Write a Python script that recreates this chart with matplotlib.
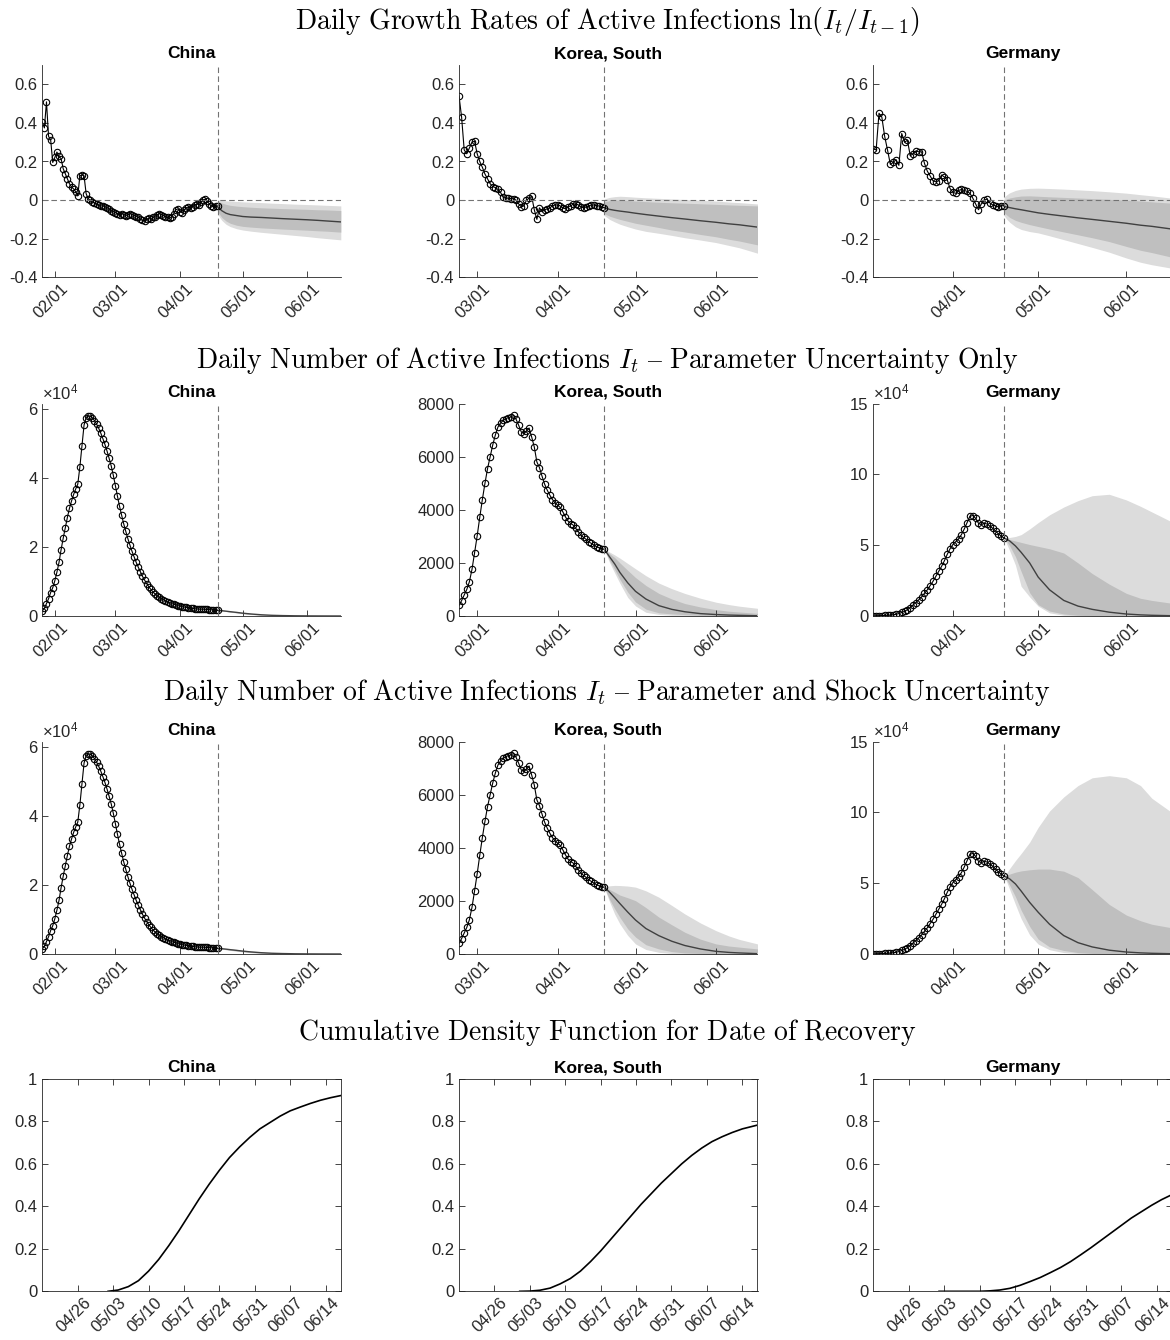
import matplotlib
matplotlib.use('agg')

import matplotlib.pyplot as plt
import matplotlib.dates as mdates
import matplotlib.ticker as ticker
import matplotlib.transforms as mtransforms
import numpy as np
import pandas as pd

# ---------------- observed data (daily) ----------------
china_start = '2020-01-26'
korea_start = '2020-02-23'
germany_start = '2020-03-04'
cutoff = '2020-04-19'

china_growth = [0.405, 0.374, 0.509, 0.33, 0.313, 0.195, 0.221, 0.249, 0.226, 0.215,
                0.163, 0.137, 0.111, 0.085, 0.068, 0.058, 0.043, 0.022, 0.126, 0.13,
                0.126, 0.033, 0.007, -0.002,
                -0.01, -0.015, -0.02, -0.025, -0.03, -0.03, -0.035, -0.04, -0.045, -0.055,
                -0.06, -0.065, -0.07, -0.075, -0.07, -0.075, -0.08, -0.075, -0.07, -0.075,
                -0.08, -0.085, -0.09, -0.1, -0.105, -0.11, -0.1, -0.095, -0.1, -0.09,
                -0.085, -0.075, -0.07, -0.075, -0.08, -0.085, -0.09, -0.095, -0.085, -0.07,
                -0.05, -0.045, -0.06, -0.065, -0.05, -0.04, -0.035, -0.04, -0.035, -0.025,
                -0.02, -0.025, -0.01, 0.0, 0.005, -0.005, -0.02, -0.03, -0.035, -0.03, -0.03]
china_active = [1500, 2200, 3600, 5000, 6800, 8200, 10200, 12700, 15500, 19200,
                22500, 25500, 28500, 31200, 33300, 35200, 36800, 38200, 43200, 49300,
                55300, 57500,
                58000, 57900, 57400, 56600, 55600, 54400, 53000, 51400, 49700, 47800,
                45700, 43500, 40800, 37800,
                34700, 31800, 29200, 26700, 24500, 22400, 20500, 18700, 17100, 15500,
                14100, 12800, 11500, 10400,
                9400, 8500, 7700, 7000, 6400, 5900, 5450, 5050, 4700, 4400, 4100, 3850,
                3600, 3400, 3200, 3000,
                2850, 2700, 2600, 2500, 2400, 2300, 2200, 2100, 2050, 2000, 2000, 2000,
                1950, 1900, 1850, 1800, 1750, 1700, 1650]

korea_growth = [0.54, 0.43, 0.26, 0.24, 0.27, 0.30, 0.305, 0.24, 0.20, 0.17,
                0.135, 0.11, 0.085, 0.07, 0.065, 0.055, 0.04, 0.015, 0.01, 0.01,
                0.008, 0.007, 0.0, -0.02, -0.035, -0.03, 0.0, 0.01, 0.02, -0.05,
                -0.1, -0.04, -0.06, -0.05, -0.045, -0.04, -0.03, -0.025, -0.025, -0.03,
                -0.04, -0.045, -0.035, -0.03, -0.02, -0.02, -0.025, -0.035, -0.04, -0.035,
                -0.03, -0.025, -0.025, -0.03, -0.03, -0.035, -0.04]
korea_active = [400, 580, 790, 1000, 1290, 1755, 2380, 3020, 3720, 4390,
                5000, 5555, 6000, 6445, 6820, 7120, 7270, 7370, 7440, 7475,
                7500, 7560, 7410, 7185, 6935, 6870, 6970, 7085, 6745, 6370,
                5805, 5590, 5265, 4965, 4740, 4550, 4390, 4265, 4175, 4090,
                3925, 3740, 3575, 3485, 3425, 3300, 3170, 3045, 2960, 2885,
                2795, 2735, 2670, 2610, 2570, 2540, 2510]

germany_growth = [0.265, 0.26, 0.45, 0.43, 0.33, 0.26, 0.185, 0.195, 0.21, 0.18,
                  0.345, 0.30, 0.31, 0.23, 0.24, 0.255, 0.25, 0.25, 0.19, 0.15,
                  0.125, 0.10, 0.095, 0.10, 0.13, 0.12, 0.105, 0.06, 0.04, 0.035,
                  0.05, 0.055, 0.05, 0.045, 0.035, 0.01, -0.02, -0.05, -0.02, 0.0,
                  0.005, -0.015, -0.025, -0.03, -0.035, -0.03, -0.028]
germany_active = [150, 200, 250, 300, 400, 500, 650, 900, 1200, 1700,
                  2500, 3300, 4500, 6000, 7800, 9500, 11500, 13500, 16000, 18500,
                  21500, 24500, 28000, 31500, 35000, 39000, 43500, 47500, 50500, 52500,
                  54500, 57500, 61500, 66000, 70500, 71000, 69000, 65500, 64500, 65500,
                  65000, 63500, 62000, 60000, 58000, 56500, 55000]

# ---------------- forecasts: median, inner band (hi, lo), outer band (hi, lo) ----------------
fc_dates = ['2020-04-19', '2020-04-20', '2020-04-21', '2020-04-23', '2020-04-25',
            '2020-04-28', '2020-05-01', '2020-05-05', '2020-05-10', '2020-05-15',
            '2020-05-20', '2020-05-26', '2020-06-01', '2020-06-06', '2020-06-10',
            '2020-06-17']

china_g_med = [-0.035, -0.045, -0.055, -0.068, -0.075, -0.08, -0.085, -0.088, -0.09, -0.093,
               -0.096, -0.099, -0.102, -0.105, -0.108, -0.113]
china_g_ihi = [-0.005, -0.01, -0.015, -0.022, -0.027, -0.031, -0.034, -0.037, -0.04, -0.042,
               -0.044, -0.046, -0.048, -0.05, -0.051, -0.054]
china_g_ilo = [-0.06, -0.075, -0.09, -0.108, -0.12, -0.13, -0.136, -0.14, -0.144, -0.147,
               -0.15, -0.153, -0.156, -0.159, -0.161, -0.166]
china_g_ohi = [0.0, -0.001, -0.002, -0.004, -0.005, -0.007, -0.009, -0.011, -0.013, -0.016,
               -0.018, -0.021, -0.023, -0.025, -0.027, -0.03]
china_g_olo = [-0.07, -0.09, -0.105, -0.125, -0.137, -0.148, -0.155, -0.161, -0.167, -0.172,
               -0.177, -0.183, -0.189, -0.195, -0.199, -0.206]

korea_g_med = [-0.04, -0.044, -0.048, -0.053, -0.057, -0.062, -0.068, -0.075, -0.083, -0.091,
               -0.098, -0.107, -0.115, -0.123, -0.128, -0.14]
korea_g_ihi = [-0.01, -0.006, -0.003, 0.0, 0.0, -0.002, -0.005, -0.008, -0.011, -0.014,
               -0.016, -0.019, -0.022, -0.025, -0.027, -0.03]
korea_g_ilo = [-0.07, -0.077, -0.083, -0.092, -0.1, -0.11, -0.12, -0.13, -0.142, -0.155,
               -0.165, -0.178, -0.19, -0.203, -0.212, -0.232]
korea_g_ohi = [0.005, 0.01, 0.014, 0.018, 0.02, 0.018, 0.015, 0.012, 0.009, 0.006,
               0.003, -0.001, -0.005, -0.01, -0.013, -0.02]
korea_g_olo = [-0.08, -0.09, -0.1, -0.113, -0.125, -0.138, -0.15, -0.162, -0.172, -0.183,
               -0.195, -0.207, -0.22, -0.235, -0.247, -0.275]

germany_g_med = [-0.033, -0.036, -0.039, -0.045, -0.05, -0.058, -0.066, -0.074, -0.083, -0.092,
                 -0.1, -0.11, -0.12, -0.13, -0.136, -0.15]
germany_g_ihi = [0.0, 0.006, 0.011, 0.017, 0.021, 0.022, 0.02, 0.017, 0.014, 0.011,
                 0.008, 0.004, 0.0, -0.005, -0.009, -0.016]
germany_g_ilo = [-0.065, -0.078, -0.09, -0.105, -0.115, -0.127, -0.137, -0.15, -0.165, -0.18,
                 -0.195, -0.215, -0.24, -0.26, -0.272, -0.296]
germany_g_ohi = [0.015, 0.028, 0.038, 0.05, 0.057, 0.061, 0.062, 0.06, 0.057, 0.053,
                 0.049, 0.043, 0.036, 0.028, 0.022, 0.01]
germany_g_olo = [-0.08, -0.1, -0.115, -0.138, -0.152, -0.163, -0.17, -0.185, -0.205, -0.225,
                 -0.245, -0.27, -0.3, -0.322, -0.335, -0.353]

# parameter uncertainty only
china_p_med = [1650, 1600, 1540, 1400, 1250, 1050, 820, 580, 350, 200, 120, 60, 30, 18, 12, 5]
china_p_ihi = [1650, 1630, 1590, 1480, 1360, 1170, 940, 690, 440, 270, 170, 95, 52, 33, 23, 12]
china_p_ilo = [1650, 1570, 1490, 1320, 1150, 940, 710, 480, 270, 145, 80, 37, 17, 10, 6, 3]
china_p_ohi = [1650, 1650, 1620, 1530, 1420, 1240, 1010, 760, 500, 320, 210, 120, 70, 45, 32, 18]
china_p_olo = [1650, 1550, 1460, 1280, 1100, 880, 650, 420, 230, 120, 65, 28, 12, 7, 4, 2]

korea_p_med = [2510, 2370, 2230, 1960, 1640, 1250, 930, 640, 390, 250, 160, 90, 55, 35, 25, 10]
korea_p_ihi = [2510, 2430, 2350, 2200, 2000, 1720, 1450, 1150, 850, 640, 470, 340, 240, 180, 150, 100]
korea_p_ilo = [2510, 2300, 2100, 1750, 1380, 900, 530, 260, 120, 80, 50, 25, 12, 8, 5, 2]
korea_p_ohi = [2510, 2460, 2410, 2300, 2180, 1980, 1780, 1520, 1240, 1030, 850, 670, 520, 430, 370, 290]
korea_p_olo = [2510, 2260, 2020, 1620, 1230, 700, 380, 140, 60, 25, 10, 4, 2, 1, 0, 0]

germany_p_med = [55000, 54200, 53000, 49500, 45000, 37500, 27500, 18500, 11000, 7000,
                 4700, 2700, 1400, 800, 500, 200]
germany_p_ihi = [55000, 54500, 54000, 53000, 52000, 50500, 49200, 47500, 44500, 37500,
                 30000, 22500, 16000, 12500, 11000, 9000]
germany_p_ilo = [55000, 52500, 49500, 42000, 31500, 16500, 8000, 3500, 1400, 500,
                 200, 100, 0, 0, 0, 0]
germany_p_ohi = [55000, 55200, 55500, 56200, 57500, 61500, 66000, 71500, 77000, 81500,
                 85000, 86000, 82000, 77500, 73500, 66500]
germany_p_olo = [55000, 50500, 46000, 36000, 21000, 13500, 7000, 2200, 500, 100,
                 0, 0, 0, 0, 0, 0]

# parameter and shock uncertainty
china_s_med = [1650, 1600, 1540, 1410, 1260, 1060, 840, 600, 370, 215, 130, 65, 33, 20, 13, 6]
china_s_ihi = [1650, 1660, 1630, 1530, 1410, 1230, 1010, 760, 500, 320, 210, 120, 68, 45, 32, 18]
china_s_ilo = [1650, 1540, 1450, 1280, 1110, 890, 670, 440, 240, 125, 68, 30, 13, 8, 5, 2]
china_s_ohi = [1650, 1700, 1690, 1610, 1510, 1340, 1120, 870, 600, 400, 270, 160, 95, 65, 48, 28]
china_s_olo = [1650, 1500, 1400, 1220, 1040, 820, 600, 380, 200, 100, 52, 22, 9, 5, 3, 1]

korea_s_med = [2510, 2420, 2330, 2120, 1900, 1580, 1280, 960, 690, 480, 320, 190, 100, 60, 40, 13]
korea_s_ihi = [2510, 2470, 2430, 2330, 2220, 2120, 2010, 1750, 1390, 1100, 820, 560, 380, 300, 260, 190]
korea_s_ilo = [2510, 2280, 2060, 1700, 1380, 950, 640, 350, 190, 90, 40, 20, 10, 6, 4, 2]
korea_s_ohi = [2510, 2550, 2570, 2585, 2580, 2560, 2520, 2380, 2140, 1830, 1510, 1170, 880, 680, 550, 380]
korea_s_olo = [2510, 2230, 1970, 1500, 1130, 700, 380, 170, 63, 20, 8, 3, 1, 0, 0, 0]

germany_s_med = [55000, 54200, 53000, 49500, 44500, 36500, 29500, 21000, 13000, 8000,
                 5000, 2700, 1400, 800, 500, 200]
germany_s_ihi = [55000, 55800, 56500, 57800, 58700, 59500, 60000, 60000, 58500, 54000,
                 45500, 35000, 27500, 23500, 21000, 18500]
germany_s_ilo = [55000, 52000, 48500, 40500, 31000, 19500, 10500, 5000, 2500, 1000,
                 400, 100, 0, 0, 0, 0]
germany_s_ohi = [55000, 57500, 60500, 66000, 71000, 79000, 89500, 101000, 111000, 119000,
                 124500, 126000, 124500, 119000, 110000, 100000]
germany_s_olo = [55000, 50500, 45500, 35000, 25000, 13500, 7000, 3000, 1000, 300,
                 0, 0, 0, 0, 0, 0]

# ---------------- CDF of recovery date ----------------
china_cdf_dates = ['2020-05-02', '2020-05-04', '2020-05-06', '2020-05-08', '2020-05-10',
                   '2020-05-12', '2020-05-14', '2020-05-16', '2020-05-18', '2020-05-20',
                   '2020-05-22', '2020-05-24', '2020-05-26', '2020-05-28', '2020-05-30',
                   '2020-06-01', '2020-06-03', '2020-06-05', '2020-06-07', '2020-06-09',
                   '2020-06-11', '2020-06-13', '2020-06-15', '2020-06-17']
china_cdf = [0.0, 0.006, 0.022, 0.05, 0.095, 0.15, 0.215, 0.285, 0.36, 0.435,
             0.505, 0.57, 0.63, 0.68, 0.725, 0.765, 0.795, 0.825, 0.85, 0.868,
             0.885, 0.9, 0.912, 0.922]

korea_cdf_dates = ['2020-05-01', '2020-05-03', '2020-05-05', '2020-05-07', '2020-05-09',
                   '2020-05-11', '2020-05-13', '2020-05-15', '2020-05-17', '2020-05-19',
                   '2020-05-21', '2020-05-23', '2020-05-25', '2020-05-27', '2020-05-29',
                   '2020-05-31', '2020-06-02', '2020-06-04', '2020-06-06', '2020-06-08',
                   '2020-06-10', '2020-06-12', '2020-06-14', '2020-06-17']
korea_cdf = [0.0, 0.001, 0.005, 0.015, 0.035, 0.06, 0.095, 0.14, 0.19, 0.245,
             0.30, 0.355, 0.41, 0.46, 0.51, 0.555, 0.6, 0.64, 0.675, 0.705,
             0.728, 0.748, 0.765, 0.783]

germany_cdf_dates = ['2020-05-02', '2020-05-10', '2020-05-12', '2020-05-14', '2020-05-16',
                     '2020-05-18', '2020-05-20', '2020-05-22', '2020-05-24', '2020-05-26',
                     '2020-05-28', '2020-05-30', '2020-06-01', '2020-06-03', '2020-06-05',
                     '2020-06-07', '2020-06-09', '2020-06-11', '2020-06-13', '2020-06-15',
                     '2020-06-17']
germany_cdf = [0.0, 0.0, 0.002, 0.006, 0.014, 0.028, 0.046, 0.065, 0.088, 0.112,
               0.14, 0.172, 0.205, 0.24, 0.275, 0.31, 0.345, 0.375, 0.405, 0.432, 0.455]

countries = ['China', 'Korea, South', 'Germany']

row_titles = [r'$\mathrm{Daily\ Growth\ Rates\ of\ Active\ Infections\ }\ln(I_t/I_{t-1})$',
              r'$\mathrm{Daily\ Number\ of\ Active\ Infections\ }I_t\mathrm{\ –\ Parameter\ Uncertainty\ Only}$',
              r'$\mathrm{Daily\ Number\ of\ Active\ Infections\ }I_t\mathrm{\ –\ Parameter\ and\ Shock\ Uncertainty}$',
              r'$\mathrm{Cumulative\ Density\ Function\ for\ Date\ of\ Recovery}$']

AXC = '#262626'
LIGHT = '#dcdcdc'
DARK = '#bfbfbf'


def style_axes(fig, ax, box=False):
    for s in ['left', 'bottom', 'top', 'right']:
        ax.spines[s].set_color(AXC)
        ax.spines[s].set_linewidth(0.6)
    if not box:
        ax.spines['top'].set_visible(False)
        ax.spines['right'].set_visible(False)
    ax.tick_params(direction='in', length=4, width=0.6, colors=AXC,
                   labelsize=12, top=box, right=box)
    ax.tick_params(axis='x', pad=3)
    shift = mtransforms.ScaledTranslation(-4 / 100., 0, fig.dpi_scale_trans)
    for lab in ax.get_xticklabels():
        lab.set_rotation(45)
        lab.set_ha('center')
        lab.set_va('top')
        lab.set_transform(lab.get_transform() + shift)


def draw_panel(ax, start, obs, fc):
    dates = pd.date_range(start, periods=len(obs), freq='D')
    fd = pd.to_datetime(fc_dates)
    med, ihi, ilo, ohi, olo = fc
    ax.fill_between(fd, olo, ohi, color=LIGHT, lw=0)
    ax.fill_between(fd, ilo, ihi, color=DARK, lw=0)
    ax.plot(fd, med, color='#404040', lw=1.0)
    ax.plot(dates, obs, color='k', lw=0.8)
    ax.plot(dates, obs, 'o', mfc='none', mec='k', ms=4.6, mew=0.8)
    ax.axvline(pd.Timestamp(cutoff), color='0.45', ls=(0, (5, 3)), lw=0.8)
    ax.set_xlim(pd.Timestamp(start), pd.Timestamp('2020-06-17'))
    ax.xaxis.set_major_locator(mdates.MonthLocator(bymonthday=1))
    ax.xaxis.set_major_formatter(mdates.DateFormatter('%m/%d'))


def main():
    plt.rcParams['font.family'] = ['Liberation Sans', 'DejaVu Sans']
    plt.rcParams['axes.unicode_minus'] = False
    plt.rcParams['mathtext.fontset'] = 'custom'
    plt.rcParams['mathtext.rm'] = 'Liberation Sans'
    plt.rcParams['mathtext.it'] = 'Liberation Sans:italic'

    fig = plt.figure(figsize=(11.7, 13.4), dpi=100)
    W, H = 1170., 1340.
    lefts = [42.3, 459.0, 873.3]
    tops = [65.0, 403.7, 741.7, 1079.0]
    aw, ah = 298.5, 212.3

    starts = [china_start, korea_start, germany_start]
    growth = [china_growth, korea_growth, germany_growth]
    active = [china_active, korea_active, germany_active]
    g_fc = [(china_g_med, china_g_ihi, china_g_ilo, china_g_ohi, china_g_olo),
            (korea_g_med, korea_g_ihi, korea_g_ilo, korea_g_ohi, korea_g_olo),
            (germany_g_med, germany_g_ihi, germany_g_ilo, germany_g_ohi, germany_g_olo)]
    p_fc = [(china_p_med, china_p_ihi, china_p_ilo, china_p_ohi, china_p_olo),
            (korea_p_med, korea_p_ihi, korea_p_ilo, korea_p_ohi, korea_p_olo),
            (germany_p_med, germany_p_ihi, germany_p_ilo, germany_p_ohi, germany_p_olo)]
    s_fc = [(china_s_med, china_s_ihi, china_s_ilo, china_s_ohi, china_s_olo),
            (korea_s_med, korea_s_ihi, korea_s_ilo, korea_s_ohi, korea_s_olo),
            (germany_s_med, germany_s_ihi, germany_s_ilo, germany_s_ohi, germany_s_olo)]
    cdf_dates = [china_cdf_dates, korea_cdf_dates, germany_cdf_dates]
    cdfs = [china_cdf, korea_cdf, germany_cdf]
    act_ylim = [61500, 8000, 150000]
    act_ticks = [[0, 20000, 40000, 60000], [0, 2000, 4000, 6000, 8000],
                 [0, 50000, 100000, 150000]]

    for r in range(4):
        for c in range(3):
            ax = fig.add_axes([lefts[c] / W, 1 - (tops[r] + ah) / H, aw / W, ah / H])
            if r == 0:
                draw_panel(ax, starts[c], growth[c], g_fc[c])
                ax.axhline(0, color='0.45', ls=(0, (5, 3)), lw=0.8)
                ax.set_ylim(-0.4, 0.7)
                ax.set_yticks([-0.4, -0.2, 0, 0.2, 0.4, 0.6])
                ax.yaxis.set_major_formatter(ticker.FuncFormatter(lambda v, p: '%g' % round(v, 2)))
            elif r in (1, 2):
                fc = p_fc[c] if r == 1 else s_fc[c]
                draw_panel(ax, starts[c], active[c], fc)
                ax.set_ylim(0, act_ylim[c])
                ax.set_yticks(act_ticks[c])
                if c == 1:
                    ax.yaxis.set_major_formatter(ticker.FuncFormatter(lambda v, p: '%d' % v))
                else:
                    ax.yaxis.set_major_formatter(ticker.FuncFormatter(lambda v, p: '%g' % (v / 1e4)))
                    ax.text(0.0, 1.008, r'$\times10^{4}$', transform=ax.transAxes,
                            ha='left', va='bottom', fontsize=12, color=AXC)
            else:
                ax.plot(pd.to_datetime(cdf_dates[c]), cdfs[c], color='k', lw=1.2)
                ax.set_xlim(pd.Timestamp('2020-04-19'), pd.Timestamp('2020-06-17'))
                ax.set_ylim(0, 1)
                ax.set_yticks([0, 0.2, 0.4, 0.6, 0.8, 1])
                ax.yaxis.set_major_formatter(ticker.FuncFormatter(lambda v, p: '%g' % round(v, 2)))
                ax.set_xticks(pd.date_range('2020-04-26', '2020-06-14', freq='7D'))
                ax.xaxis.set_major_formatter(mdates.DateFormatter('%m/%d'))
            style_axes(fig, ax, box=(r == 3))
            ax.set_title(countries[c], fontsize=12.5, fontweight='bold', pad=5)

    title_y = [22, 360, 693, 1032]
    for r in range(4):
        fig.text(607 / W, 1 - title_y[r] / H, row_titles[r], ha='center', va='center',
                 fontsize=20, math_fontfamily='cm')

    fig.savefig('out.png', dpi=100)


if __name__ == "__main__":
    main()
